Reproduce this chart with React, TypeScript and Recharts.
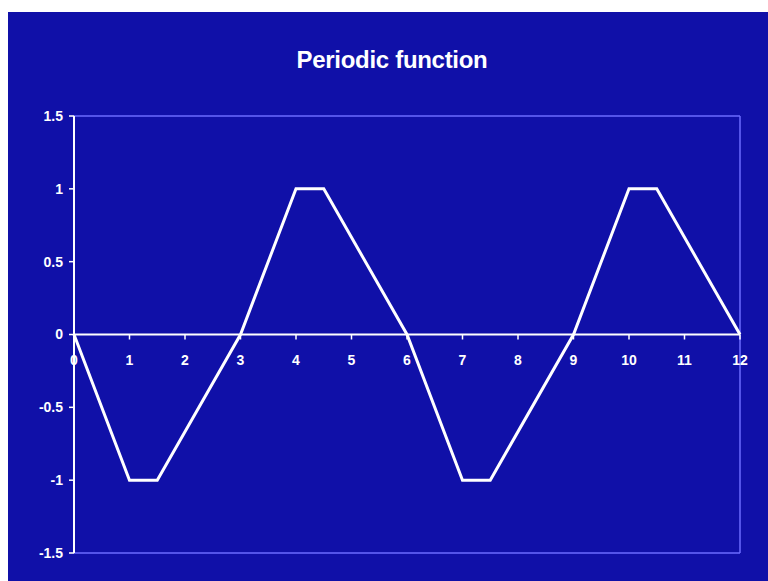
import { Line, LineChart, ReferenceLine, XAxis, YAxis } from 'recharts'

// one period: ramp down, flat bottom, ramp up, flat top, back to zero
const xValues = [0, 1, 1.5, 3, 4, 4.5, 6, 7, 7.5, 9, 10, 10.5, 12]
const yValues = [0, -1, -1, 0, 1, 1, 0, -1, -1, 0, 1, 1, 0]

const xTicks = [0, 1, 2, 3, 4, 5, 6, 7, 8, 9, 10, 11, 12]
const yTicks = [-1.5, -1, -0.5, 0, 0.5, 1, 1.5]

const data = xValues.map((x, i) => ({ x, y: yValues[i] }))

const W = 760
const H = 569
const X_AXIS_H = 10
const margin = { top: 104, right: 28, bottom: 28 - X_AXIS_H, left: 16 }
const yMin = -1.5
const yMax = 1.5
const plotH = H - margin.top - margin.bottom - X_AXIS_H
// the x axis sits on y = 0, not at the bottom of the plot
const zeroY = margin.top + (plotH * (yMax - 0)) / (yMax - yMin)

const BG = '#1010a8'
const FRAME = '#6b6bff'
const FONT = '"Liberation Sans", Arial, sans-serif'

const renderXTick = ({ x, payload }: any) => (
  <g key={`xt-${payload.value}`}>
    <line x1={x} x2={x} y1={zeroY} y2={zeroY + 5} stroke="#fff" strokeWidth={1.5} />
    <text
      x={x}
      y={zeroY + 27}
      textAnchor="middle"
      dominantBaseline="middle"
      fill="#fff"
      fontSize={14}
      fontWeight="bold"
      fontFamily={FONT}
    >
      {payload.value}
    </text>
  </g>
)

export default function App() {
  return (
    <div
      style={{
        position: 'fixed',
        left: 8,
        top: 12,
        width: W,
        height: H,
        background: BG,
        fontFamily: FONT,
      }}
    >
      <div
        style={{
          position: 'absolute',
          top: 34,
          left: 0,
          width: 768,
          textAlign: 'center',
          color: '#fff',
          fontSize: 24,
          fontWeight: 'bold',
          letterSpacing: -0.3,
        }}
      >
        Periodic function
      </div>
      <LineChart width={W} height={H} data={data} margin={margin}>
        <ReferenceLine y={1.5} stroke={FRAME} strokeWidth={1.5} />
        <ReferenceLine y={-1.5} stroke={FRAME} strokeWidth={1.5} />
        <ReferenceLine x={12} stroke={FRAME} strokeWidth={1.5} />
        <ReferenceLine y={0} stroke="#fff" strokeWidth={2} />
        <XAxis
          dataKey="x"
          type="number"
          domain={[0, 12]}
          ticks={xTicks}
          interval={0}
          height={X_AXIS_H}
          axisLine={false}
          tickLine={false}
          tick={renderXTick}
        />
        <YAxis
          type="number"
          domain={[yMin, yMax]}
          ticks={yTicks}
          interval={0}
          width={50}
          axisLine={{ stroke: '#fff', strokeWidth: 2 }}
          tickLine={{ stroke: '#fff', strokeWidth: 1.5 }}
          tickSize={5}
          tickMargin={6}
          tick={{ fill: '#fff', fontSize: 14, fontWeight: 'bold', fontFamily: FONT }}
        />
        <Line
          type="linear"
          dataKey="y"
          stroke="#fff"
          strokeWidth={3}
          dot={false}
          isAnimationActive={false}
        />
      </LineChart>
    </div>
  )
}
